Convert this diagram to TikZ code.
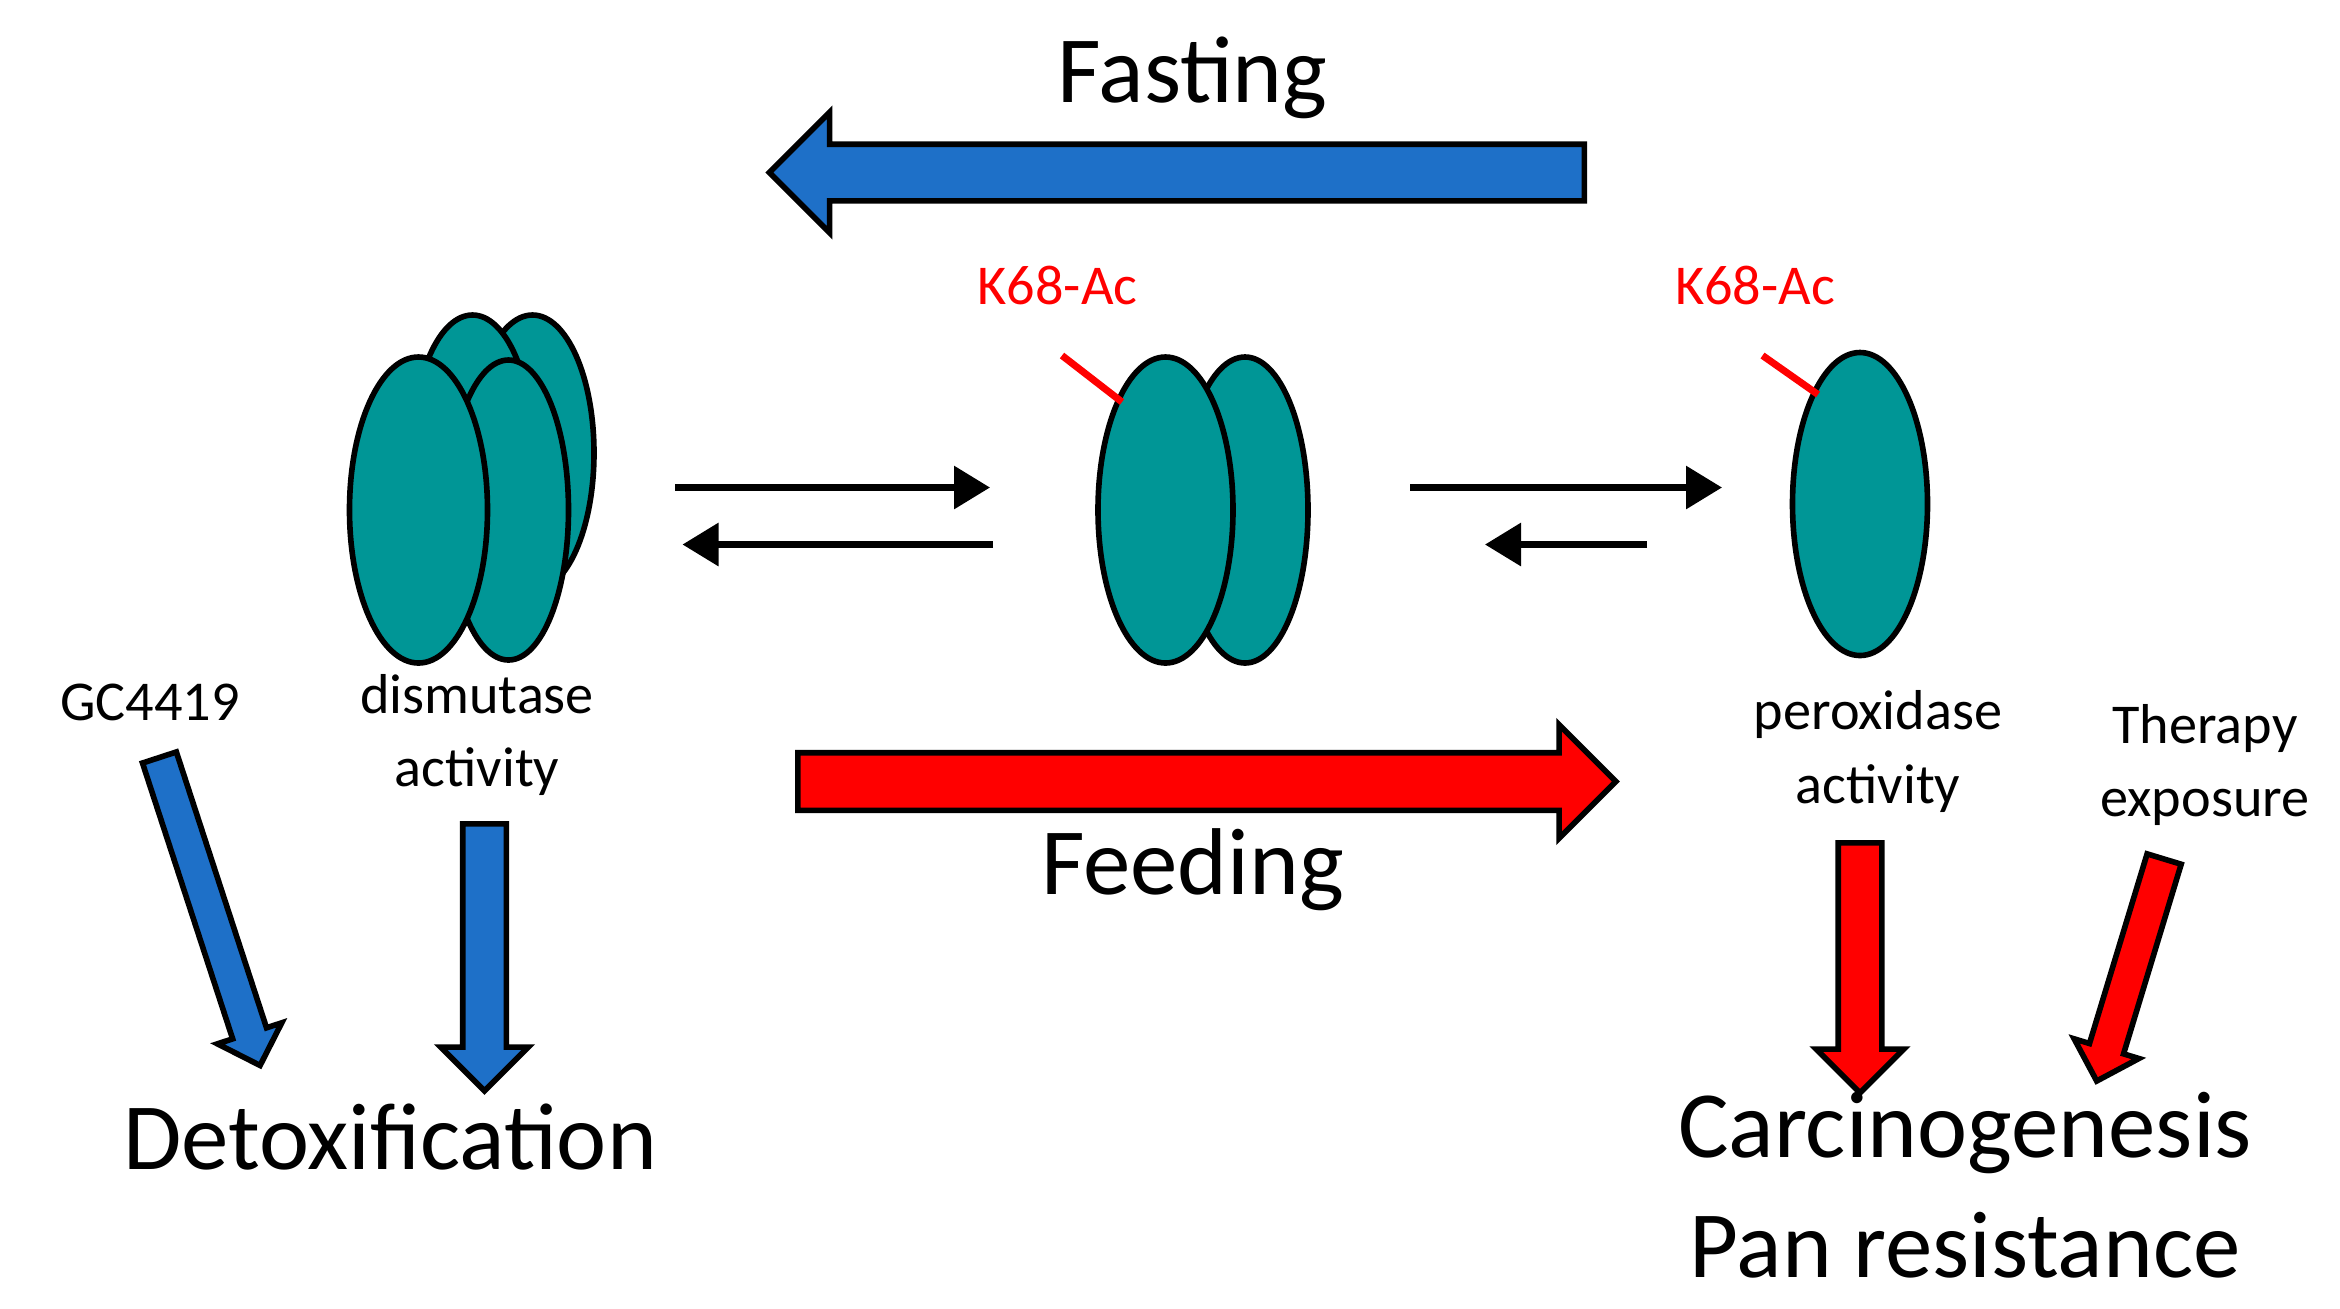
\documentclass[tikz,border=0pt]{standalone}
\usepackage{fontspec}
\setmainfont{Carlito}
\usetikzlibrary{shapes.arrows, arrows.meta}
\definecolor{sodteal}{RGB}{0, 150, 150}
\definecolor{fastblue}{RGB}{30, 112, 200}
\definecolor{feedred}{RGB}{255, 0, 0}
\tikzset{
  subunit/.style={draw=black, line width=1.6pt, fill=sodteal},
  bigarrow/.style={single arrow, draw=black, line width=1.6pt, inner sep=0pt, single arrow head indent=0pt, anchor=center},
  eqarrow/.style={line width=1.8pt, -{Triangle[length=0.36cm, width=0.42cm]}},
  smalltxt/.style={font=\fontsize{16}{19}\selectfont, align=center},
  bigtxt/.style={font=\fontsize{27}{33}\selectfont, align=center}
}
\begin{document}
\begin{tikzpicture}[x=0.015cm, y=-0.015cm]
  \useasboundingbox (0,0) rectangle (1560,872);

  % Fasting / Feeding
  \node[bigtxt] (fasting) at (795,52) {Fasting};
  \node[bigarrow, fill=fastblue, minimum height=8.15cm, minimum width=1.16cm, inner ysep=0.255cm, single arrow head extend=0.32cm, shape border rotate=180] (fastarrow) at (794,115) {};
  \node[bigarrow, fill=feedred, minimum height=8.18cm, minimum width=1.08cm, inner ysep=0.26cm, single arrow head extend=0.28cm] (feedarrow) at (795,521) {};
  \node[bigtxt] (feeding) at (795,580) {Feeding};

  % tetramer
  \draw[subunit] (355,302) ellipse (41 and 92);
  \draw[subunit] (315,300) ellipse (40 and 90);
  \draw[subunit] (339,340) ellipse (40 and 100);
  \draw[subunit] (279,340) ellipse (46 and 102);

  % dimer
  \draw[subunit] (830,340) ellipse (42 and 102);
  \draw[subunit] (777,340) ellipse (45 and 102);
  \node[smalltxt, text=feedred] (acdimer) at (705,190) {K68-Ac};
  \coordinate (tagdimer) at (708,237);
  \coordinate (sitedimer) at (748,268);
  \draw[feedred, line width=2pt] (tagdimer) -- (sitedimer);

  % monomer
  \draw[subunit] (1240,336) ellipse (45 and 101);
  \node[smalltxt, text=feedred] (acmono) at (1170,190) {K68-Ac};
  \coordinate (tagmono) at (1175,237);
  \coordinate (sitemono) at (1212,263);
  \draw[feedred, line width=2pt] (tagmono) -- (sitemono);

  % equilibria
  \coordinate (ea1) at (450,325); \coordinate (ea2) at (660,325);
  \coordinate (eb1) at (662,363); \coordinate (eb2) at (455,363);
  \coordinate (ec1) at (940,325); \coordinate (ec2) at (1148,325);
  \coordinate (ed1) at (1098,363); \coordinate (ed2) at (990,363);
  \draw[eqarrow] (ea1) -- (ea2);
  \draw[eqarrow] (eb1) -- (eb2);
  \draw[eqarrow] (ec1) -- (ec2);
  \draw[eqarrow] (ed1) -- (ed2);

  % left outcomes
  \node[smalltxt] (gc) at (100,468) {GC4419};
  \node[smalltxt] (dismut) at (318,490) {dismutase\\[2pt]activity};
  \node[bigarrow, fill=fastblue, minimum height=3.24cm, minimum width=0.62cm, inner ysep=0.15cm, single arrow head extend=0.16cm, rotate=-71.9] (gcarrow) at (138,602) {};
  \node[bigarrow, fill=fastblue, minimum height=2.67cm, minimum width=0.82cm, inner ysep=0.19cm, single arrow head extend=0.22cm, rotate=-90] (dismarrow) at (323,631) {};
  \node[bigtxt] (detox) at (260,758) {Detoxification};

  % right outcomes
  \node[smalltxt] (perox) at (1252,501) {peroxidase\\[2pt]activity};
  \node[smalltxt] (therapy) at (1470,510) {Therapy\\[2pt]exposure};
  \node[bigarrow, fill=feedred, minimum height=2.5cm, minimum width=0.82cm, inner ysep=0.19cm, single arrow head extend=0.22cm, rotate=-90] (peroxarrow) at (1240,638) {};
  \node[bigarrow, fill=feedred, minimum height=2.32cm, minimum width=0.62cm, inner ysep=0.15cm, single arrow head extend=0.16cm, rotate=-106.9] (therarrow) at (1422,641) {};
  \node[bigtxt] (carcino) at (1310,755) {Carcinogenesis};
  \node[bigtxt] (panres) at (1310,830) {Pan resistance};
\end{tikzpicture}
\end{document}
